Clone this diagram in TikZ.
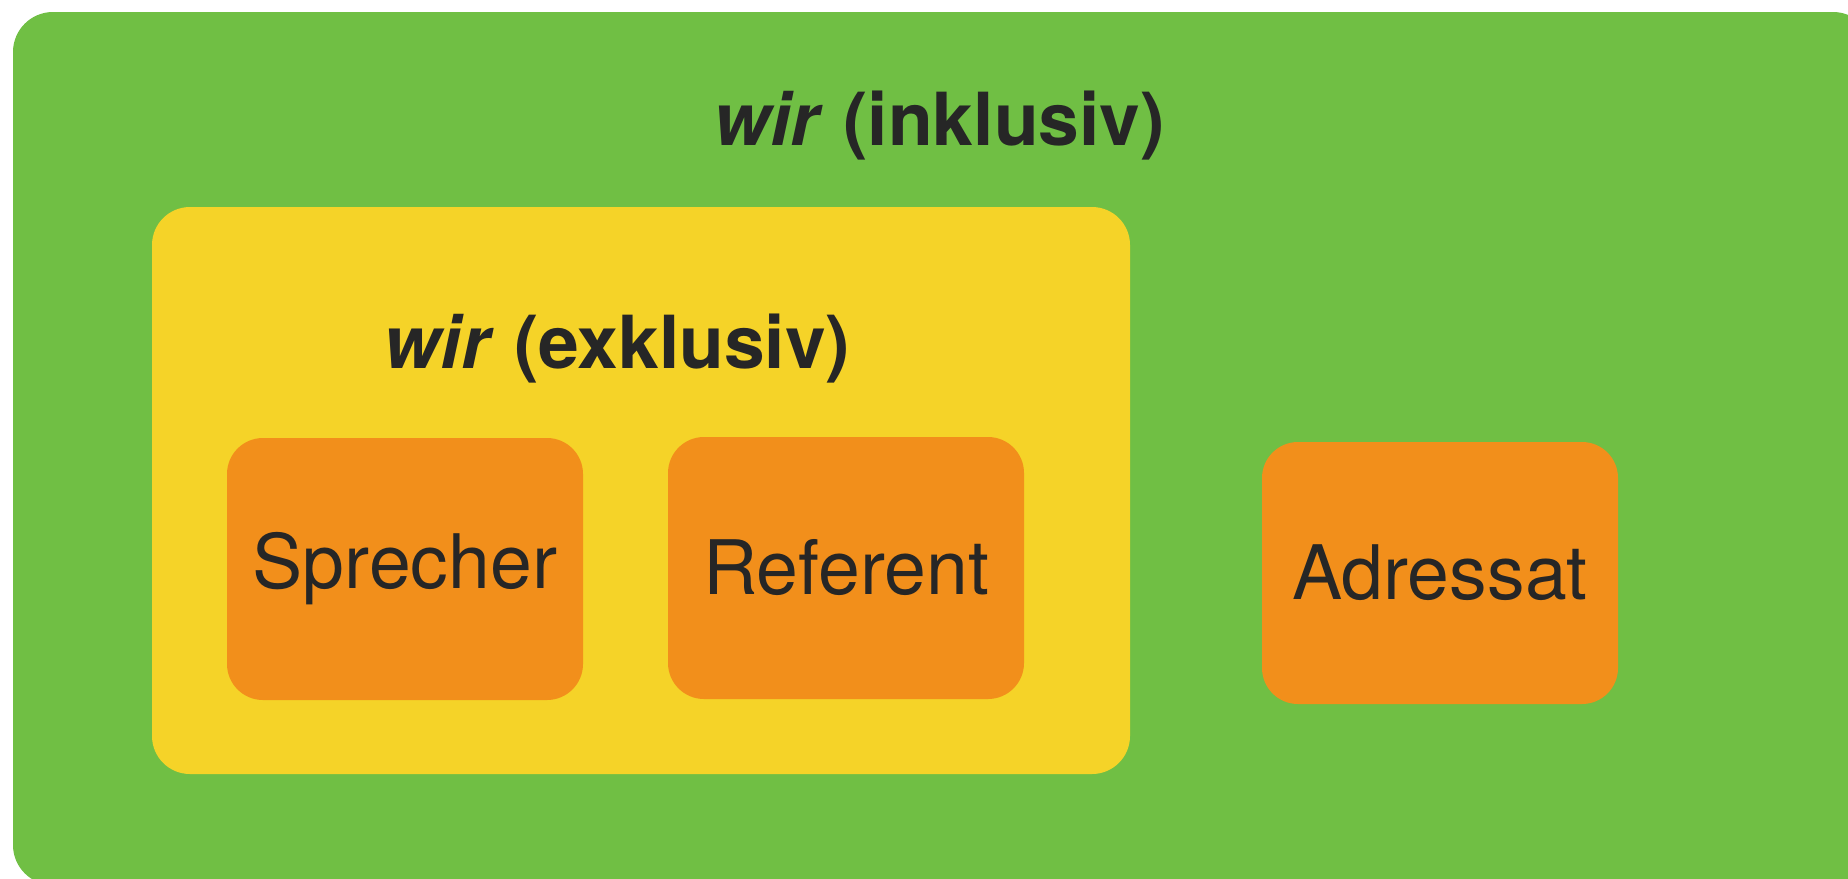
\documentclass[tikz,border=0pt]{standalone}
\usepackage{fontspec}
\setmainfont{TeX Gyre Heros}
\definecolor{gruen}{RGB}{112,191,68}
\definecolor{gelb}{RGB}{245,211,40}
\definecolor{orang}{RGB}{242,143,27}
\definecolor{dunkel}{RGB}{38,38,38}
\tikzset{
  outerbox/.style={fill=gruen, draw=none, rounded corners=10pt, inner sep=0pt},
  midbox/.style={fill=gelb, draw=none, rounded corners=9.5pt, inner sep=0pt},
  rolebox/.style={fill=orang, draw=none, rounded corners=9pt, inner sep=0pt,
    minimum width=89pt, minimum height=65.5pt, text=dunkel,
    font=\fontsize{18.8}{22}\selectfont},
  titletext/.style={inner sep=0pt, anchor=base, text=dunkel,
    font=\fontsize{18.3}{22}\selectfont\bfseries}
}
\begin{document}
\begin{tikzpicture}[x=0.25pt,y=-0.25pt]
\useasboundingbox (0,0) rectangle (1848,878);
\clip (0,0) rectangle (1848,878);
\node[outerbox, minimum width=465pt, minimum height=218.25pt] (inkl) at (943,448.5) {};
\node[midbox, minimum width=244.5pt, minimum height=141.75pt] (exkl) at (641,490.5) {};
\node[titletext] (tinkl) at (939,145) {\textit{wir} (inklusiv)};
\node[titletext] (texkl) at (617,368) {\textit{wir} (exklusiv)};
\node[rolebox] (sprecher) at (405,569) {Sprecher};
\node[rolebox] (referent) at (846,568) {Referent};
\node[rolebox] (adressat) at (1440,573) {Adressat};
\end{tikzpicture}
\end{document}
